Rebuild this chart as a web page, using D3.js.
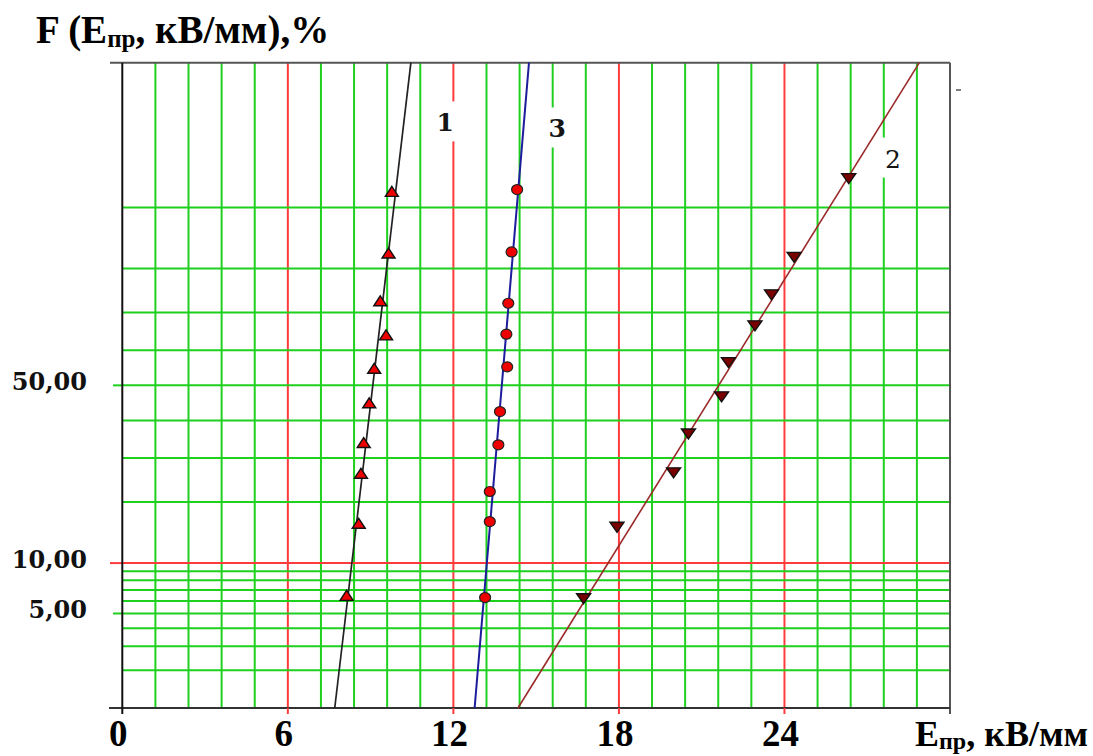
<!DOCTYPE html>
<html>
<head>
<meta charset="utf-8">
<script src="https://cdn.jsdelivr.net/npm/d3@7"></script>
<style>
body { margin: 0; background: #fff; }
</style>
</head>
<body>
<div id="chart"></div>
<script>
// breakdown strength E (kV/mm) vs cumulative probability F (%)
var s1E = [9.77, 9.65, 9.35, 9.56, 9.13, 8.95, 8.75, 8.65, 8.57, 8.13],
	s1F = [91.9, 83.0, 72.9, 64.2, 54.9, 45.0, 34.0, 26.3, 16.0, 6.5];
var s2E = [26.33, 24.35, 23.53, 22.93, 21.97, 21.72, 20.52, 19.98, 17.93, 16.72],
	s2F = [93.2, 82.2, 74.3, 66.6, 56.5, 46.7, 36.3, 26.4, 15.3, 6.2];
var s3E = [14.31, 14.11, 13.99, 13.92, 13.95, 13.69, 13.63, 13.32, 13.32, 13.15],
	s3F = [92.1, 83.2, 72.3, 64.4, 55.3, 42.5, 33.4, 22.2, 16.3, 6.3];

// fitted lines: E at F = 1% and F = 99%
var fitF = [1, 99];
var fit1E = [7.70, 10.46],
	fit2E = [14.34, 28.89],
	fit3E = [12.77, 14.74];

// curve numbers (E, F)
var curveNames = ['1', '3', '2'],
	curveE = [11.70, 15.76, 27.93],
	curveF = [97.1, 96.8, 94.9];

var xTicks = [0, 6, 12, 18, 24];
var yTicks = [50, 10, 5],
	yTickText = ['50,00', '10,00', '5,00'];
var gridF = [2, 3, 4, 5, 6, 7, 8, 9, 10, 20, 30, 40, 50, 60, 70, 80, 90];
var gridE = d3.range(1, 25).map(i => i * 1.2);

// inverse normal cdf (Acklam) for the probability axis
function probit(p) {
	var a = [-3.969683028665376e+01, 2.209460984245205e+02, -2.759285104469687e+02, 1.383577518672690e+02, -3.066479806614716e+01, 2.506628277459239e+00],
		b = [-5.447609879822406e+01, 1.615858368580409e+02, -1.556989798598866e+02, 6.680131188771972e+01, -1.328068155092299e+01],
		c = [-7.784894002430293e-03, -3.223964580411365e-01, -2.400758277161838e+00, -2.549732539343734e+00, 4.374664141464968e+00, 2.938163982698783e+00],
		d = [7.784695709041462e-03, 3.224671290700398e-01, 2.445134137142996e+00, 3.754408394203512e+00];
	var q, r;
	if (p < 0.02425) {
		q = Math.sqrt(-2 * Math.log(p));
		return (((((c[0]*q + c[1])*q + c[2])*q + c[3])*q + c[4])*q + c[5]) / ((((d[0]*q + d[1])*q + d[2])*q + d[3])*q + 1);
	}
	if (p > 1 - 0.02425) {
		q = Math.sqrt(-2 * Math.log(1 - p));
		return -(((((c[0]*q + c[1])*q + c[2])*q + c[3])*q + c[4])*q + c[5]) / ((((d[0]*q + d[1])*q + d[2])*q + d[3])*q + 1);
	}
	q = p - 0.5; r = q * q;
	return (((((a[0]*r + a[1])*r + a[2])*r + a[3])*r + a[4])*r + a[5])*q / (((((b[0]*r + b[1])*r + b[2])*r + b[3])*r + b[4])*r + 1);
}

// build canvas
var width = 1093,
	height = 756;

var svg = d3.select('#chart')
			.append('svg')
			.attr('width', width)
			.attr('height', height)
			.style('font-family', '"Liberation Serif", "Times New Roman", serif');

var pLeft = 122.3, pRight = 950, pTop = 62.7, pBottom = 708;

var x = d3.scaleLinear().domain([0, 30]).range([pLeft, pRight]);
var yz = d3.scaleLinear().domain([probit(0.01), probit(0.99)]).range([pBottom, pTop]);
var y = F => yz(probit(F / 100));

var GREEN = '#1fd01f', RED = '#ff3b3b';

// grid
var grid = svg.append('g').attr('stroke-width', 2);

grid.selectAll('.vg')
	.data(gridE).enter()
	.append('line')
	.attr('x1', d => x(d)).attr('x2', d => x(d))
	.attr('y1', pTop).attr('y2', pBottom)
	.attr('stroke', (d, i) => (i + 1) % 5 === 0 ? RED : GREEN);

grid.selectAll('.hg')
	.data(gridF).enter()
	.append('line')
	.attr('x1', pLeft).attr('x2', pRight)
	.attr('y1', d => y(d)).attr('y2', d => y(d))
	.attr('stroke', d => d === 10 ? RED : GREEN);

// small outside ticks on the left for labelled values
grid.selectAll('.lt')
	.data(yTicks).enter()
	.append('line')
	.attr('x1', d => d === 10 ? 110 : 113).attr('x2', pLeft)
	.attr('y1', d => y(d)).attr('y2', d => y(d))
	.attr('stroke', d => d === 10 ? RED : GREEN);

// frame
var frame = svg.append('g').attr('fill', 'none');
frame.append('line').attr('x1', 110).attr('x2', pRight).attr('y1', pTop).attr('y2', pTop)
	.attr('stroke', '#555').attr('stroke-width', 2);
frame.append('line').attr('x1', pRight).attr('x2', pRight).attr('y1', pTop).attr('y2', 714)
	.attr('stroke', '#555').attr('stroke-width', 2);
frame.append('line').attr('x1', 956).attr('x2', 961).attr('y1', 90).attr('y2', 90)
	.attr('stroke', '#555').attr('stroke-width', 1.5);
frame.append('line').attr('x1', 109).attr('x2', pRight).attr('y1', pBottom).attr('y2', pBottom)
	.attr('stroke', '#333').attr('stroke-width', 2);
frame.append('line').attr('x1', pLeft).attr('x2', pLeft).attr('y1', pTop).attr('y2', 714)
	.attr('stroke', '#111').attr('stroke-width', 2);
frame.selectAll('.bt')
	.data(xTicks.slice(1)).enter()
	.append('line')
	.attr('x1', d => x(d)).attr('x2', d => x(d))
	.attr('y1', pBottom).attr('y2', 714)
	.attr('stroke', RED).attr('stroke-width', 2);

// curve numbers with white boxes over the grid
var names = svg.append('g');
curveNames.forEach(function(n, i) {
	var cx = x(curveE[i]), cy = y(curveF[i]);
	names.append('rect')
		.attr('x', cx - 11).attr('y', cy - 21)
		.attr('width', 22).attr('height', 40)
		.attr('fill', '#fff');
	names.append('text')
		.attr('x', cx).attr('y', cy + 9)
		.attr('text-anchor', 'middle')
		.style('font-family', '"DejaVu Serif", serif')
		.style('font-size', '25px')
		.style('font-weight', n === '2' ? 'normal' : 'bold')
		.attr('fill', '#151515')
		.text(n);
});

// fitted lines
var fitLine = d3.line().x(d => x(d[0])).y(d => y(d[1]));
var fits = [
	{ E: fit1E, color: '#222', w: 1.7 },
	{ E: fit3E, color: '#1c1c9c', w: 2 },
	{ E: fit2E, color: '#9a2a2a', w: 1.6 }
];
svg.append('g').selectAll('path')
	.data(fits).enter()
	.append('path')
	.attr('d', d => fitLine(d.E.map((e, i) => [e, fitF[i]])))
	.attr('fill', 'none')
	.attr('stroke', d => d.color)
	.attr('stroke-width', d => d.w);

// markers
function tri(w, h, up) {
	return up
		? 'M0,' + (-h / 2) + 'L' + (w / 2) + ',' + (h / 2) + 'L' + (-w / 2) + ',' + (h / 2) + 'Z'
		: 'M0,' + (h / 2) + 'L' + (w / 2) + ',' + (-h / 2) + 'L' + (-w / 2) + ',' + (-h / 2) + 'Z';
}
var pts = svg.append('g');

pts.selectAll('.m1')
	.data(d3.zip(s1E, s1F)).enter()
	.append('path')
	.attr('transform', d => 'translate(' + x(d[0]) + ',' + y(d[1]) + ')')
	.attr('d', tri(13, 10, true))
	.attr('fill', '#ee0000').attr('stroke', '#111').attr('stroke-width', 1.4);

pts.selectAll('.m3')
	.data(d3.zip(s3E, s3F)).enter()
	.append('ellipse')
	.attr('cx', d => x(d[0])).attr('cy', d => y(d[1]))
	.attr('rx', 5.5).attr('ry', 5)
	.attr('fill', '#ee0000').attr('stroke', '#222').attr('stroke-width', 1.2);

pts.selectAll('.m2')
	.data(d3.zip(s2E, s2F)).enter()
	.append('path')
	.attr('transform', d => 'translate(' + x(d[0]) + ',' + y(d[1]) + ')')
	.attr('d', tri(14, 10, false))
	.attr('fill', '#7a0000').attr('stroke', '#111').attr('stroke-width', 1.4);

// axis texts
svg.append('g').selectAll('text')
	.data(xTicks).enter()
	.append('text')
	.attr('x', d => x(d) - 4).attr('y', 746)
	.attr('text-anchor', 'middle')
	.style('font-size', '37px').style('font-weight', 'bold')
	.text(d => d);

svg.append('g').selectAll('text')
	.data(yTicks).enter()
	.append('text')
	.attr('x', 87).attr('y', d => y(d) + 5)
	.attr('text-anchor', 'end')
	.style('font-family', '"DejaVu Serif", serif')
	.style('font-size', '24px').style('font-weight', 'bold')
	.attr('fill', '#111')
	.text((d, i) => yTickText[i]);

function bigLabel(sel, xp, yp, size) {
	return sel.append('text')
		.attr('x', xp).attr('y', yp)
		.style('font-size', size + 'px').style('font-weight', 'bold');
}

var title = bigLabel(svg, 36, 43, 39);
title.append('tspan').text('F (E');
title.append('tspan').attr('dy', 4).style('font-size', '25px').text('пр');
title.append('tspan').attr('dy', -4).text(', кВ/мм),%');

var xlab = bigLabel(svg, 915, 746, 36);
xlab.append('tspan').text('E');
xlab.append('tspan').attr('dy', 3).style('font-size', '24px').text('пр');
xlab.append('tspan').attr('dy', -3).text(', кВ/мм');
</script>
</body>
</html>
